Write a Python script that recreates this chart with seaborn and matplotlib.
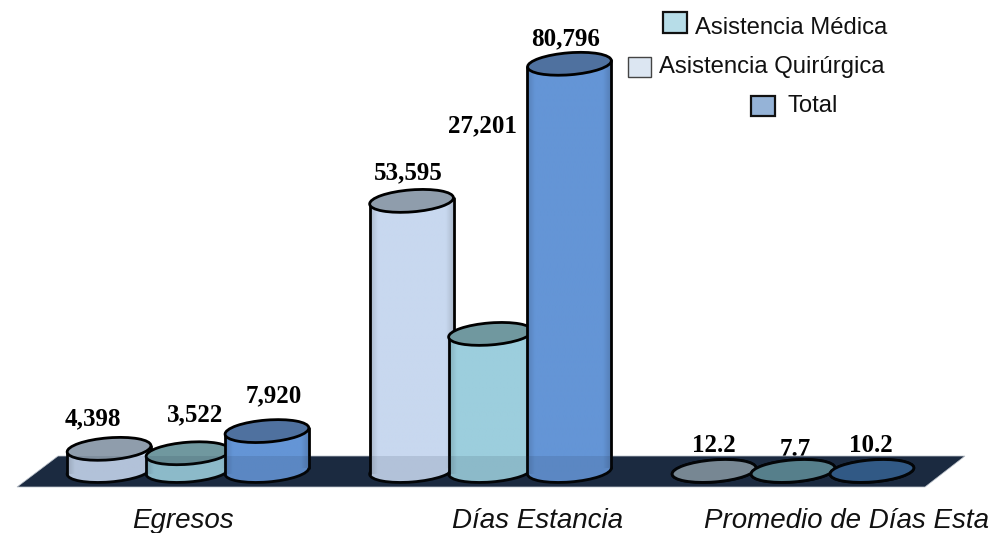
#!/usr/bin/env python3
"""Egresos, dias estancia y promedio por tipo de asistencia (cilindros sobre piso oscuro)"""

import numpy as np
import pandas as pd
import matplotlib
matplotlib.use("Agg")
import matplotlib.pyplot as plt
import seaborn as sns
from matplotlib.patches import Ellipse, Polygon, Rectangle
from matplotlib.transforms import Affine2D

categorias = ["Egresos", "Días Estancia", "Promedio de Días Esta"]
series = ["Asistencia Quirúrgica", "Asistencia Médica", "Total"]
quirurgica = [4398, 53595, 12.2]
medica = [3522, 27201, 7.7]
total = [7920, 80796, 10.2]
formatos = ["{:,.0f}", "{:,.0f}", "{:.1f}"]

color_cuerpo = ["#C8D8EF", "#9CCEDD", "#6495D6"]
color_tapa = ["#8F9DAC", "#70989F", "#4F719F"]
color_tapa_piso = ["#84949F", "#5F8B96", "#35608F"]
color_leyenda = {"Asistencia Médica": "#B7DDE8", "Asistencia Quirúrgica": "#DCE6F2", "Total": "#95B3D7"}
color_piso = "#1B2A40"

W, H = 992, 533
sns.set_theme(style="white")
plt.rcParams["font.family"] = ["Liberation Sans", "DejaVu Sans"]

df = pd.DataFrame({
    "categoria": categorias * 3,
    "serie": np.repeat(series, 3),
    "valor": quirurgica + medica + total,
})

fig = plt.figure(figsize=(W / 100, H / 100), dpi=100)
ax = fig.add_axes([0, 0, 1, 1])
sns.barplot(data=df, x="categoria", y="valor", hue="serie", hue_order=series,
            palette=color_cuerpo, width=0.783, legend=False, ax=ax)

# escala: grupos cada 302.5 px, base en y=471, 0.00504 px por unidad
ax.set_xlim(-188 / 302.5, (W - 188) / 302.5)
ax.set_ylim(-(H - 471) / 0.00504, 471 / 0.00504)
ax.axis("off")

# coordenadas de imagen (y hacia abajo)
px = Affine2D().scale(1, -1).translate(0, H)


def a_px(x, y):
    xd, yd = ax.transData.transform((x, y))
    return xd, H - yd


# piso
piso = [(17, 487), (925, 487), (965, 456), (58, 456)]
ax.add_patch(Polygon(piso, closed=True, facecolor=color_piso, edgecolor="#C5CBD3",
                     linewidth=0.6, transform=px, zorder=1))

ANCHO = 84
ALTO = 22
ANGULO = 4.5
LINEA = 2.0
dy = ANCHO / 2 * np.sin(np.radians(ANGULO))

for i, cont in enumerate(ax.containers):
    for j, barra in enumerate(cont.patches):
        barra.set_visible(False)
        cx, arriba = a_px(barra.get_x() + barra.get_width() / 2, barra.get_height())
        _, base = a_px(0, 0)
        izq, der = cx - ANCHO / 2, cx + ANCHO / 2
        z = 10 + i * 5 + j * 20

        ax.add_patch(Ellipse((cx, base), ANCHO, ALTO, angle=-ANGULO, facecolor=color_cuerpo[i],
                             edgecolor="black", linewidth=LINEA, transform=px, zorder=z))
        alto_px = base - arriba
        if alto_px > 3:
            # cuerpo con bordes algo mas oscuros
            t = np.linspace(0, 1, 60)
            sombra = 0.86 + 0.14 * np.clip(np.minimum(t, 1 - t) / 0.09, 0, 1)
            rgb = np.array(matplotlib.colors.to_rgb(color_cuerpo[i]))
            img = (sombra[:, None] * rgb)[None, :, :]
            im = ax.imshow(img, extent=(izq, der, base + 10, arriba - 10), aspect="auto",
                           transform=px, zorder=z + 1, interpolation="bilinear")
            cuad = [(izq, arriba + dy), (der, arriba - dy), (der, base - dy), (izq, base + dy)]
            im.set_clip_path(Polygon(cuad, closed=True, transform=px))
            ax.plot([izq, izq], [arriba + dy, base + dy], color="black", lw=LINEA,
                    transform=px, zorder=z + 2, solid_capstyle="round")
            ax.plot([der, der], [arriba - dy, base - dy], color="black", lw=LINEA,
                    transform=px, zorder=z + 2, solid_capstyle="round")
            tapa = color_tapa[i]
        else:
            tapa = color_tapa_piso[i]
        ax.add_patch(Ellipse((cx, arriba), ANCHO, ALTO, angle=-ANGULO, facecolor=tapa,
                             edgecolor="black", linewidth=LINEA, transform=px, zorder=z + 3))

# reflejo del piso sobre las barras
ax.add_patch(Polygon(piso, closed=True, facecolor=color_piso, edgecolor="none",
                     alpha=0.12, transform=px, zorder=90))

ax.set_xlim(-188 / 302.5, (W - 188) / 302.5)
ax.set_ylim(-(H - 471) / 0.00504, 471 / 0.00504)

# etiquetas de datos, colocadas a mano como en el original
pos_etiquetas = {
    "Asistencia Quirúrgica": [(93, 419), (408, 173), (714, 446)],
    "Asistencia Médica": [(195, 415), (482, 126), (795, 450)],
    "Total": [(274, 396), (566, 39), (871, 446)],
}
valores = {"Asistencia Quirúrgica": quirurgica, "Asistencia Médica": medica, "Total": total}
for s in series:
    for k, (x, y) in enumerate(pos_etiquetas[s]):
        ax.text(x, y, formatos[k].format(valores[s][k]), transform=px, ha="center", va="center",
                family="Liberation Serif", fontweight="bold", fontsize=18, color="black",
                zorder=0.5 if valores[s][k] == 7.7 else 95)

# nombres de categoria
for nombre, x in zip(categorias, [183, 538, 846]):
    ax.text(x, 521, nombre, transform=px, ha="center", va="center", style="italic",
            fontsize=20, color="#111111", zorder=95)

# leyenda
filas = [
    ("Asistencia Médica", 663, 12, 24, 21, 695, 28, "#111111", 1.6),
    ("Asistencia Quirúrgica", 628, 57, 23, 20, 659, 67, "#444444", 1.0),
    ("Total", 751, 96, 24, 20, 787, 106, "#111111", 1.6),
]
for nombre, x, y, ancho, alto, xt, yt, borde, lw in filas:
    ax.add_patch(Rectangle((x, y), ancho, alto, facecolor=color_leyenda[nombre], edgecolor=borde,
                           linewidth=lw, transform=px, zorder=95))
    ax.text(xt, yt, nombre, transform=px, ha="left", va="center", fontsize=17.2,
            color="#111111", zorder=95)

fig.savefig("out.png", dpi=100, facecolor="white")
plt.close(fig)
